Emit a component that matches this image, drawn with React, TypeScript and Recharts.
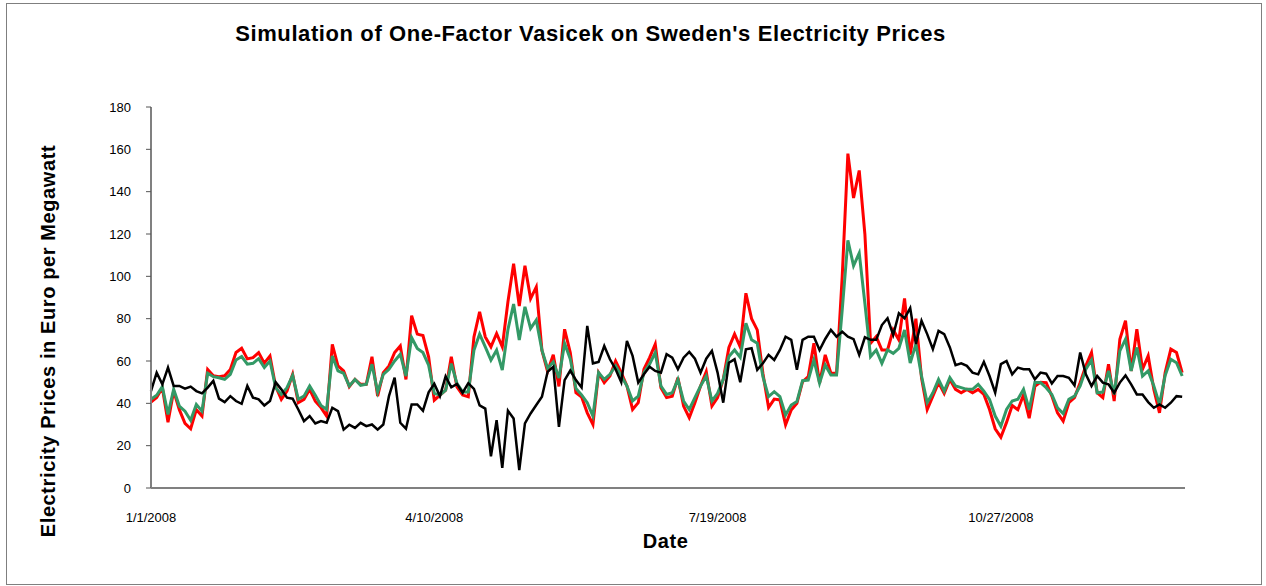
import { LineChart, Line, XAxis, YAxis } from "recharts";

// one point every two days, 1/1/2008 .. 12/30/2008
const simulated = [
  40.6, 42.7, 47.4, 31.1, 45.8, 37, 30.5, 28, 37, 34,
  56, 53, 52.6, 53, 56, 64, 66, 61, 61.6, 64,
  59, 62.4, 48, 41.9, 45.8, 53.7, 40.3, 41.9, 46.6, 41,
  38, 34, 67.9, 57.7, 55.3, 47.9, 51.3, 49, 49, 62,
  43.4, 54.5, 57.7, 64, 67.1, 51.3, 81.4, 72.7, 72, 62,
  41.5, 43.9, 46.2, 62, 47.8, 43.9, 43.1, 71.4, 83.2, 71.4,
  66.7, 73, 66.7, 88, 106, 86, 105, 89.5, 95, 65,
  55, 63, 48, 75, 64, 45, 43, 35.5, 30, 54.5,
  49.8, 52.9, 60, 54.5, 48.2, 37.1, 40.3, 56.1, 61.6, 67.9,
  47.4, 42.7, 43.4, 52.1, 38.7, 33.2, 40.3, 48.2, 55, 38.7,
  42.7, 51.3, 66.4, 72.7, 66.6, 92, 80, 74.7, 54.2, 38,
  42, 41.6, 29.8, 36.9, 40, 50.2, 52.6, 68.4, 49.5, 62.9,
  54.2, 54.2, 100, 158, 137, 150, 120, 68.4, 71.5, 65.2,
  65.2, 74.7, 70, 89.6, 63, 80, 52, 37.1, 43.4, 49.8,
  44.7, 51.3, 46.6, 45, 46.6, 45, 46.6, 44.2, 37.1, 28,
  24, 31, 39, 37, 44, 33, 48, 50, 49.8, 43.4,
  35.5, 31.6, 40.3, 42.7, 49.8, 57.7, 64, 45, 42.7, 58.5,
  41.1, 70.3, 79, 55.3, 75, 56.1, 62.4, 46.6, 35.5, 54.5,
  65.6, 64, 54.5
];

const expected = [
  41.9, 43.8, 47.9, 34.8, 46.6, 38.7, 36.3, 32, 39.5, 36.3,
  54.2, 52.6, 52.1, 51.3, 53.7, 60.5, 62.1, 58.5, 58.9, 61.1,
  56.9, 60, 47.4, 44.2, 47.4, 53.2, 41.9, 43.4, 48.2, 43.8,
  39, 37.1, 62.4, 55.3, 54.2, 48.2, 51.3, 48.5, 49, 58.5,
  45.3, 53.7, 56.1, 60, 63.2, 52.9, 71.1, 65.9, 64, 58,
  44.7, 43.9, 46.2, 58.8, 49.4, 45.4, 45.4, 65.1, 72.7, 66.7,
  60.4, 65.1, 55.7, 74.9, 86.9, 69.9, 85.6, 75.4, 79.3, 65.1,
  56.5, 59.6, 52, 68.3, 61, 47, 44, 40.3, 34, 54.5,
  51.3, 53.7, 57.7, 52.9, 48.2, 41.1, 43.4, 54.5, 58.5, 64,
  48.2, 44.2, 45, 51.3, 41.1, 37.1, 42.7, 48.2, 52.9, 41.1,
  44.7, 51.3, 62.1, 65.2, 61.7, 77.8, 70, 68.4, 52.6, 43.2,
  45.5, 43.2, 34.5, 39.2, 40.8, 50.7, 51, 60.5, 49.5, 58.1,
  53.4, 53.4, 84.1, 117, 105, 111, 87.3, 62.1, 65.2, 58.9,
  65.2, 63.6, 66, 74.7, 59, 68, 52.9, 40.3, 45, 51.3,
  45.8, 52.1, 48.2, 47.4, 46.6, 46.6, 49, 45.8, 41.9, 34,
  29.2, 37.1, 41.1, 41.9, 46.6, 37.1, 49.8, 49.8, 47.4, 44.2,
  37.9, 35.2, 41.9, 43.4, 48.2, 56.1, 60.5, 45, 45.3, 55.3,
  44.2, 64.8, 70.3, 55.3, 66.4, 52.9, 55.3, 48.2, 39.5, 53.2,
  60.8, 59.2, 52.9
];

const actual = [
  45.8, 54.5, 49, 56.9, 48.2, 48.2, 46.9, 47.9, 45.8, 44.7,
  47.4, 50.6, 42.2, 40.6, 43.4, 41.1, 39.8, 48.2, 42.7, 41.9,
  39, 41.1, 50, 46.6, 42.7, 42.2, 37.1, 31.6, 34, 30.5,
  31.6, 30.8, 37.9, 36.3, 27.6, 29.9, 28.4, 30.8, 29.2, 30,
  27.6, 30, 43.4, 52.1, 30.8, 28, 39.5, 39.5, 36.5, 45.2,
  49.2, 43.4, 52.7, 47.6, 49.2, 45, 49.5, 46.8, 39, 37.5,
  15, 32, 9.5, 36.5, 32.8, 8.4, 30.5, 35.2, 39.2, 43.1,
  54.9, 57.3, 28.9, 51, 55.5, 51, 47.5, 76.6, 58.9, 59.6,
  67.1, 60.8, 56.1, 50, 69.5, 62.4, 49.8, 53.7, 57.3, 55.3,
  54.5, 63.2, 61.6, 56.1, 61.6, 64.3, 61.1, 54.5, 61.1, 64.8,
  54.5, 40.3, 59.2, 60.8, 50, 65.5, 66, 55.8, 58.9, 62.9,
  60.5, 65.2, 71.5, 70, 55.8, 70, 71.5, 71.5, 65.2, 70.4,
  74.7, 71.5, 73.9, 71.5, 70.3, 62.9, 71.2, 70, 70, 77,
  80.2, 72.3, 82.5, 80.2, 85, 68, 79, 72.7, 65.6, 74.2,
  72.7, 66.4, 58, 58.9, 57.7, 54.5, 53.7, 59.6, 52.9, 45,
  58.5, 60, 53.7, 56.9, 56.1, 56.1, 51.3, 54.5, 54, 49.4,
  52.9, 52.9, 52.1, 48.5, 64, 53.7, 48.2, 52.9, 49.8, 49,
  45, 49.8, 53.2, 49, 44.2, 44.2, 40.6, 37.9, 39.5, 37.9,
  40.3, 43.4, 43.1
];

const tickDays = [0, 100, 200, 300];
const tickLabels = ["1/1/2008", "4/10/2008", "7/19/2008", "10/27/2008"];
const yTicks = [0, 20, 40, 60, 80, 100, 120, 140, 160, 180];

const FONT = "'Liberation Sans', Arial, sans-serif";

const data = simulated.map((v, i) => ({
  day: i * 2,
  simulated: v,
  expected: expected[i],
  actual: actual[i]
}));

export default function App() {
  return (
    <div style={{ position: "absolute", left: 0, top: 0, width: 1266, height: 586, background: "#fff", fontFamily: FONT }}>
      <div
        style={{
          position: "absolute",
          left: 6,
          top: 3,
          width: 1256,
          height: 582,
          border: "1px solid #7f7f7f",
          boxSizing: "border-box"
        }}
      />
      <LineChart
        width={1266}
        height={586}
        data={data}
        margin={{ top: 107, right: 81, left: 0, bottom: 58 }}
        style={{ position: "absolute", left: 0, top: 0 }}
      >
        <XAxis
          dataKey="day"
          type="number"
          domain={[0, 365]}
          ticks={tickDays}
          tickFormatter={(d) => tickLabels[tickDays.indexOf(d)] ?? ""}
          interval={0}
          height={40}
          tickLine={false}
          tickSize={0}
          tickMargin={25}
          stroke="#808080"
          axisLine={{ stroke: "#808080", strokeWidth: 2 }}
          tick={{ fill: "#000", fontSize: 13, fontFamily: FONT }}
        />
        <YAxis
          type="number"
          domain={[0, 180]}
          ticks={yTicks}
          interval={0}
          width={151}
          tickSize={5}
          tickMargin={15}
          stroke="#808080"
          axisLine={{ stroke: "#808080", strokeWidth: 2 }}
          tickLine={{ stroke: "#555" }}
          tick={{ fill: "#000", fontSize: 13, fontFamily: FONT }}
        />
        <Line type="linear" dataKey="simulated" stroke="#ff0000" strokeWidth={3} dot={false} isAnimationActive={false} />
        <Line type="linear" dataKey="expected" stroke="#339966" strokeWidth={3} dot={false} isAnimationActive={false} />
        <Line type="linear" dataKey="actual" stroke="#000000" strokeWidth={2.5} dot={false} isAnimationActive={false} />
      </LineChart>
      <svg width={1266} height={586} style={{ position: "absolute", left: 0, top: 0, pointerEvents: "none" }}>
        <text x={590.5} y={41} textAnchor="middle" fontSize={22} fontWeight="bold" letterSpacing={0.6} fontFamily={FONT} fill="#000">
          Simulation of One-Factor Vasicek on Sweden's Electricity Prices
        </text>
        <text x={665.5} y={548} textAnchor="middle" fontSize={20} fontWeight="bold" letterSpacing={0.6} fontFamily={FONT} fill="#000">
          Date
        </text>
        <text
          x={55}
          y={341}
          textAnchor="middle"
          fontSize={20}
          fontWeight="bold"
          letterSpacing={0.6}
          fontFamily={FONT}
          fill="#000"
          transform="rotate(-90, 55, 341)"
        >
          Electricity Prices in Euro per Megawatt
        </text>
      </svg>
    </div>
  );
}
